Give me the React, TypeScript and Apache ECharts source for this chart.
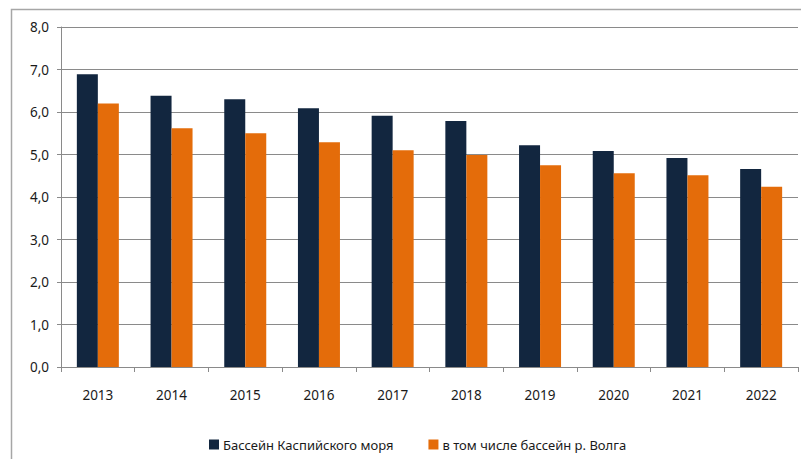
import React, { useEffect, useRef } from "react";
import * as echarts from "echarts";

const categories = ["2013", "2014", "2015", "2016", "2017", "2018", "2019", "2020", "2021", "2022"];
const caspianValues = [6.89, 6.38, 6.3, 6.09, 5.91, 5.79, 5.22, 5.08, 4.92, 4.66];
const volgaValues = [6.2, 5.62, 5.5, 5.29, 5.1, 4.99, 4.75, 4.56, 4.51, 4.24];
const seriesNames = ["Бассейн Каспийского моря", "в том числе бассейн р. Волга"];

const FONT = "Noto Sans";
const GRID_COLOR = "#8a8a8a";

export default function App() {
  const ref = useRef<HTMLDivElement>(null);
  useEffect(() => {
    document.body.style.margin = "0";
    const chart = echarts.init(ref.current!, null, { renderer: "svg" });
    chart.setOption({
      animation: false,
      backgroundColor: "#ffffff",
      graphic: [
        {
          type: "rect",
          shape: { x: 11.5, y: 9.5, width: 1000, height: 600 },
          style: { fill: "none", stroke: "#a6a6a6", lineWidth: 1.5 },
          silent: true,
          z: -1,
        },
      ],
      grid: { left: 61, top: 27, right: 3, bottom: 92, containLabel: false },
      legend: {
        left: 204,
        top: 433,
        icon: "rect",
        itemWidth: 10,
        itemHeight: 10,
        itemGap: 35,
        textStyle: { fontFamily: FONT, fontSize: 13, color: "#1a1a1a", padding: [0, 0, 0, -1] },
        data: seriesNames,
      },
      xAxis: {
        type: "category",
        data: categories,
        axisLine: { show: true, lineStyle: { color: GRID_COLOR, width: 1 } },
        axisTick: { show: true, length: 5, alignWithLabel: false, interval: 0, lineStyle: { color: GRID_COLOR } },
        axisLabel: { margin: 21, fontFamily: FONT, fontSize: 13.5, color: "#1a1a1a", interval: 0 },
      },
      yAxis: {
        type: "value",
        min: 0,
        max: 8,
        interval: 1,
        axisLine: { show: true, lineStyle: { color: GRID_COLOR, width: 1 } },
        axisTick: { show: true, length: 4, lineStyle: { color: GRID_COLOR } },
        splitLine: { show: true, lineStyle: { color: GRID_COLOR, width: 1 } },
        axisLabel: {
          margin: 12,
          fontFamily: FONT,
          fontSize: 13.5,
          color: "#1a1a1a",
          formatter: (v: number) => v.toFixed(1).replace(".", ","),
        },
      },
      series: [
        {
          name: seriesNames[0],
          type: "bar",
          data: caspianValues,
          barWidth: 21,
          barGap: "0%",
          itemStyle: { color: "#12263f" },
        },
        {
          name: seriesNames[1],
          type: "bar",
          data: volgaValues,
          barWidth: 21,
          barGap: "0%",
          itemStyle: { color: "#e46c0a" },
        },
      ],
    });
    return () => chart.dispose();
  }, []);
  return <div ref={ref} style={{ width: 801, height: 459, position: "absolute", left: 0, top: 0 }} />;
}
